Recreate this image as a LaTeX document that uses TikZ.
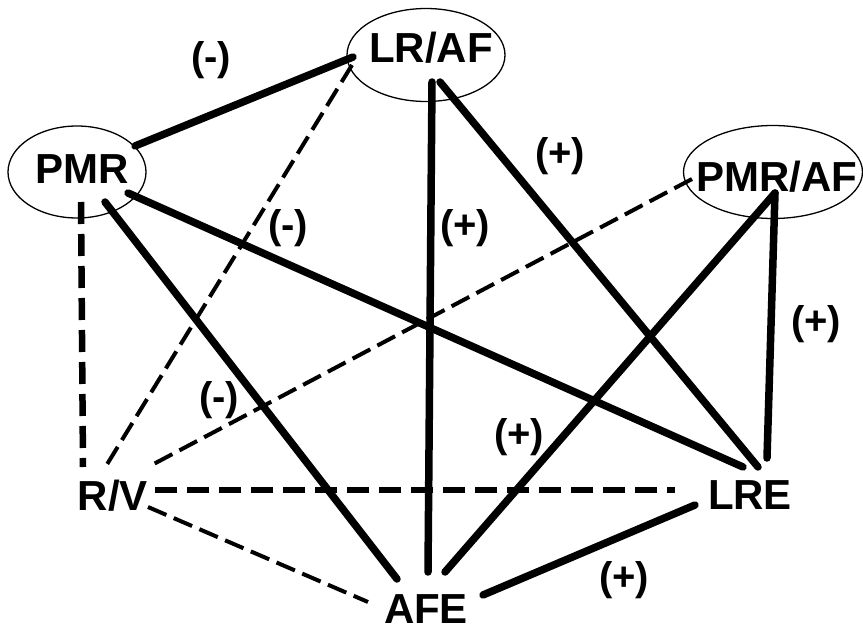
\documentclass[tikz,border=0pt]{standalone}
\usepackage{fontspec}
\setmainfont{Liberation Sans}
\usetikzlibrary{shapes.geometric}

\begin{document}
\begin{tikzpicture}[x=1pt, y=-1pt,
    oval/.style={draw, ellipse, line width=1.3pt, inner sep=0pt},
    txt/.style={inner sep=0pt, font=\fontsize{42}{48}\selectfont\bfseries},
    sgn/.style={inner sep=0pt, font=\fontsize{40}{46}\selectfont\bfseries},
    link/.style={line width=7.5pt, line cap=round},
    dlink/.style={line width=6.5pt, dash pattern=on 22pt off 10pt},
    tlink/.style={line width=4pt, dash pattern=on 20pt off 8pt},
]
\useasboundingbox (0,0) rectangle (863,626);

% nodes
\node[oval, minimum width=158pt, minimum height=93pt, label={[txt, xshift=5pt, yshift=7pt]center:LR/AF}] (lraf) at (426,55) {};
\node[oval, minimum width=138pt, minimum height=92pt, label={[txt, xshift=5pt, yshift=3pt]center:PMR}] (pmr) at (77,172) {};
\node[oval, minimum width=179pt, minimum height=93pt, label={[txt, xshift=4pt, yshift=-5pt]center:PMR/AF}] (pmraf) at (773,172) {};
\node[txt] (rv) at (113,496) {R/V};
\node[txt] (lre) at (750,495) {LRE};
\node[txt] (afe) at (426,609) {AFE};

% links
\draw[link] ([shift={(58,-26)}]pmr.center) -- ([shift={(-73,2)}]lraf.center);
\draw[tlink] ([shift={(-74,10)}]lraf.center) -- ([shift={(-7,-30)}]rv.center);
\draw[dlink] ([shift={(4,30)}]pmr.center) -- ([shift={(-30,-29)}]rv.center);
\draw[link] ([shift={(28,30)}]pmr.center) -- ([shift={(-29,-30)}]afe.center);
\draw[link] ([shift={(51,21)}]pmr.center) -- ([shift={(-7,-28)}]lre.center);
\draw[link] ([shift={(6,27)}]lraf.center) -- ([shift={(2,-37)}]afe.center);
\draw[link] ([shift={(14,27)}]lraf.center) -- ([shift={(8,-28)}]lre.center);
\draw[link] ([shift={(2,21)}]pmraf.center) -- ([shift={(19,-37)}]afe.center);
\draw[link] ([shift={(2,21)}]pmraf.center) -- ([shift={(17,-37)}]lre.center);
\draw[tlink] ([shift={(-81,7)}]pmraf.center) -- ([shift={(35,-29)}]rv.center);
\draw[dlink] ([shift={(42,-6)}]rv.center) -- ([shift={(-75,-5)}]lre.center);
\draw[tlink] ([shift={(35,11)}]rv.center) -- ([shift={(-58,-7)}]afe.center);
\draw[link] ([shift={(-55,10)}]lre.center) -- ([shift={(57,-14)}]afe.center);

% signs
\node[sgn] (s1) at (211,60) {(-)};
\node[sgn] (s2) at (288,228) {(-)};
\node[sgn] (s3) at (465,228) {(+)};
\node[sgn] (s4) at (560,156) {(+)};
\node[sgn] (s5) at (816,324) {(+)};
\node[sgn] (s6) at (219,400) {(-)};
\node[sgn] (s7) at (519,437) {(+)};
\node[sgn] (s8) at (624,580) {(+)};
\end{tikzpicture}
\end{document}
